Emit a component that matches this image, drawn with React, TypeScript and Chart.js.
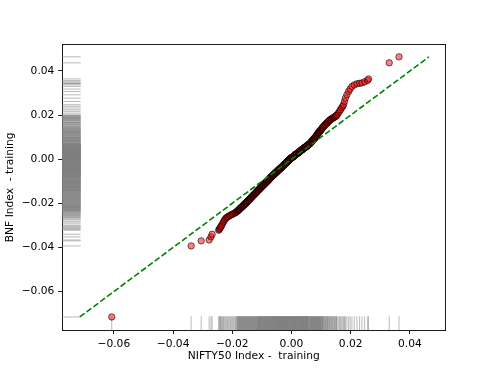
import React, { useEffect, useRef } from "react";
import { Chart, registerables } from "chart.js";

Chart.register(...registerables);

// Sorted quantiles (QQ pairs), in units of 1e-4 (return x 10 000)
const UNIT = 1e-4;

const niftyQuantiles = [
  -607, -339, -305, -278, -272, -268,
  -246, -244, -242, -240, -238, -236, -233, -230, -228, -225,
  -222, -219, -216, -213, -209, -206, -203, -199, -196, -192,
  -189, -187, -185,
  -183, -182, -181, -180, -179, -178, -177, -176, -175, -174,
  -173, -172, -171, -170, -169, -168, -167, -166, -165, -164,
  -163, -162, -161, -160, -159, -158, -157, -156, -155, -154,
  -153, -152, -151, -150, -149, -148, -147, -146, -145, -144,
  -143, -142, -141, -140, -139, -138, -137, -136, -135, -134,
  -133, -132, -131, -130, -129, -128, -127, -126, -125, -124,
  -123, -122, -121, -120, -119, -118, -117,
  -116, -115, -114, -114, -113, -112, -111, -111, -110, -109,
  -108, -108, -107, -106, -105, -105, -104, -103, -102, -102,
  -101, -100, -99, -99, -98, -97, -96, -96, -95, -94,
  -93, -93, -92, -91, -90, -90, -89, -88, -87, -87,
  -86, -85, -84, -84, -83, -82, -81, -81, -80, -79,
  -78, -78, -77, -76, -75, -75, -74, -73, -72, -72,
  -71, -70, -69, -69, -68, -67, -66, -66, -65, -64,
  -63, -63, -62, -61, -60, -60,
  -59, -59, -58, -58, -57, -56, -56, -55, -55, -54,
  -53, -53, -52, -52, -51, -50, -50, -49, -49, -48,
  -47, -47, -46, -46, -45, -44, -44, -43, -43, -42,
  -41, -41, -40, -40, -39, -38, -38, -37, -37, -36,
  -35, -35, -34, -34, -33, -32, -32, -31, -31, -30,
  -29, -29, -28, -28, -27, -26, -26, -25, -25, -24,
  -23, -23, -22, -22, -21, -20, -20, -19, -19, -18,
  -17, -17, -16, -16, -15, -14, -14, -13, -13, -12,
  -11, -11, -10, -10, -9, -8, -8, -7, -7, -6,
  -5, -5, -4, -4, -3, -2, -2, -1, -1, 0,
  1, 1, 2, 2, 3, 4, 4, 5, 5, 6,
  7, 7, 8, 8, 9, 10, 10, 11, 11, 12,
  13, 13, 14, 14, 15, 16, 16, 17, 17, 18,
  19, 19, 20, 20, 21, 22, 22, 23, 23, 24,
  25, 25, 26, 26, 27, 28, 28, 29, 29, 30,
  31, 31, 32, 32, 33, 34, 34, 35, 35, 36,
  37, 37, 38, 38, 39, 40, 40, 41, 41, 42,
  43, 43, 44, 44, 45, 46, 46, 47, 47, 48,
  49, 49, 50, 50, 51, 52, 52, 53, 53, 54,
  55, 55, 56, 57, 58, 59, 60, 61, 62, 63, 64,
  65, 66, 67, 68, 68, 69, 70, 71, 72, 72,
  73, 74, 75, 76, 76, 77, 78, 79, 80, 80,
  81, 82, 83, 84, 84, 85, 86, 87, 88, 88,
  89, 90, 91, 92, 92, 93, 94, 95, 96, 96,
  97, 98, 99, 100, 101, 102, 103, 104, 105, 106,
  107, 108,
  110, 112, 113, 115, 116, 118, 120, 121, 122, 124,
  126, 128, 129, 131, 133, 135, 137, 139, 141, 143,
  145, 147, 149, 151, 152, 154,
  158, 162, 165, 169, 173, 176, 179, 182, 187, 193,
  198, 204, 212, 221, 230, 238, 247, 257, 260, 330, 363,
];

const bnfQuantiles = [
  -715, -393, -370, -366, -352, -340,
  -322, -318, -314, -309, -305, -300, -293, -285, -280, -273,
  -268, -264, -262, -259, -256, -254, -251, -249, -247, -244,
  -242, -240, -238,
  -236, -234, -233, -232, -230, -229, -228, -227, -225, -224,
  -222, -221, -220, -219, -218, -217, -215, -214, -213, -211,
  -210, -209, -208, -207, -205, -204, -203, -201, -200, -199,
  -197, -196, -194, -193, -192, -190, -189, -187, -186, -185,
  -183, -182, -180, -179, -178, -176, -175, -173, -172, -171,
  -169, -168, -166, -165, -164, -162, -161, -160, -158, -157,
  -156, -154, -153, -151, -150, -149, -147,
  -146, -144, -143, -142, -142, -140, -139, -138, -138, -136,
  -135, -134, -134, -132, -131, -130, -129, -128, -127, -126,
  -125, -124, -123, -122, -121, -120, -119, -118, -117, -116,
  -115, -114, -113, -112, -111, -110, -109, -108, -107, -106,
  -105, -104, -103, -102, -101, -100, -99, -98, -97, -96,
  -95, -94, -93, -92, -90, -89, -88, -87, -86, -85,
  -84, -83, -82, -81, -80, -79, -78, -77, -76, -75,
  -74, -73, -72, -71, -70, -69,
  -69, -68, -67, -67, -66, -65, -64, -63, -63, -62,
  -61, -60, -60, -59, -59, -57, -57, -56, -55, -55,
  -53, -53, -52, -51, -51, -49, -49, -48, -47, -47,
  -46, -45, -45, -44, -43, -42, -41, -41, -40, -39,
  -38, -38, -37, -36, -36, -35, -34, -33, -33, -32,
  -31, -30, -30, -29, -28, -27, -26, -26, -25, -24,
  -23, -23, -22, -21, -20, -19, -19, -18, -17, -16,
  -15, -15, -14, -13, -12, -11, -11, -10, -9, -8,
  -7, -7, -6, -5, -4, -3, -3, -2, -1, 0,
  1, 1, 2, 3, 3, 4, 5, 5, 6, 6,
  7, 7, 8, 8, 9, 10, 10, 11, 11, 12,
  13, 13, 14, 14, 15, 16, 17, 18, 18, 19,
  20, 20, 21, 21, 22, 23, 23, 24, 24, 25,
  26, 26, 27, 27, 28, 29, 29, 30, 30, 31,
  32, 32, 33, 33, 34, 35, 35, 36, 36, 37,
  38, 39, 40, 40, 41, 42, 42, 43, 43, 44,
  45, 45, 46, 46, 47, 48, 48, 49, 49, 50,
  51, 51, 52, 52, 53, 54, 54, 55, 55, 56,
  57, 57, 58, 58, 59, 60, 60, 62, 62, 63,
  64, 64, 65, 66, 67, 68, 69, 70, 71, 72, 73,
  75, 77, 78, 80, 80, 82, 83, 85, 86, 87,
  88, 90, 91, 93, 93, 95, 96, 97, 98, 99,
  100, 102, 104, 106, 106, 108, 110, 112, 114, 114,
  116, 118, 119, 121, 121, 123, 124, 126, 128, 128,
  129, 131, 133, 134, 136, 138, 139, 141, 143, 145,
  146, 148,
  151, 154, 155, 158, 159, 162, 165, 166, 167, 170,
  173, 175, 177, 179, 181, 183, 184, 186, 188, 189,
  191, 193, 195, 197, 199, 201,
  209, 217, 224, 232, 240, 247, 262, 277, 292, 307,
  318, 330, 337, 342, 344, 346, 351, 357, 364, 437, 464,
];

const xTickValues = [-0.06, -0.04, -0.02, 0, 0.02, 0.04];
const yTickValues = [-0.06, -0.04, -0.02, 0, 0.02, 0.04];
const xAxisTitle = "NIFTY50 Index -  training";
const yAxisTitle = "BNF Index  - training";
const axisMin = -0.0775;
const axisMax = 0.052;
const rugEnd = -0.0712;

const W = 495;
const H = 371;
const FONT = "'DejaVu Sans', sans-serif";
const FS = 10.7;

const fmt = (v: number) => (v < 0 ? "\u2212" : "") + Math.abs(v).toFixed(2);

export default function App() {
  const ref = useRef<HTMLCanvasElement | null>(null);

  useEffect(() => {
    document.body.style.margin = "0";
    const canvas = ref.current;
    if (!canvas) return;

    const n = Math.min(niftyQuantiles.length, bnfQuantiles.length);
    const xs = niftyQuantiles.slice(0, n).map((v) => v * UNIT);
    const ys = bnfQuantiles.slice(0, n).map((v) => v * UNIT);

    const lo = Math.min(...xs, ...ys);
    const hi = Math.max(...xs, ...ys);
    const rugMid = (axisMin + rugEnd) / 2;

    const rugColor = "rgba(128,128,128,0.55)";
    const rugCommon = {
      showLine: false,
      pointStyle: "line",
      backgroundColor: "rgba(0,0,0,0)",
      pointBackgroundColor: "rgba(0,0,0,0)",
      borderColor: rugColor,
      pointBorderColor: rugColor,
      borderWidth: 1,
      pointBorderWidth: 1,
      order: 2,
    };

    const tickOpts = {
      color: "#000",
      font: { family: FONT, size: FS },
      padding: 3.8,
      autoSkip: false,
      maxRotation: 0,
      minRotation: 0,
      callback: (v: any) => fmt(Number(v)),
    };
    const gridOpts = {
      display: true,
      drawOnChartArea: false,
      drawTicks: true,
      tickLength: 3.8,
      tickWidth: 0.9,
      tickColor: "#000",
    };
    const borderOpts = { display: true, color: "#000", width: 0.9 };

    const chart = new Chart(canvas, {
      type: "scatter",
      data: {
        datasets: [
          {
            data: [
              { x: lo, y: lo },
              { x: hi, y: hi },
            ],
            showLine: true,
            pointRadius: 0,
            borderColor: "#008000",
            borderWidth: 1.6,
            borderDash: [5.9, 2.6],
            order: 0,
          } as any,
          {
            data: xs.map((x, i) => ({ x, y: ys[i] })),
            pointRadius: 3.2,
            pointBorderWidth: 1,
            backgroundColor: "rgba(255,0,0,0.5)",
            borderColor: "rgba(0,0,0,0.6)",
            order: 1,
          } as any,
          {
            ...rugCommon,
            data: xs.map((x) => ({ x, y: rugMid })),
            pointRotation: 90,
            pointRadius: (c: any) => {
              const s = c.chart.scales.y;
              return Math.abs(s.getPixelForValue(rugEnd) - s.getPixelForValue(axisMin)) / 2;
            },
          } as any,
          {
            ...rugCommon,
            data: ys.map((y) => ({ x: rugMid, y })),
            pointRotation: 0,
            pointRadius: (c: any) => {
              const s = c.chart.scales.x;
              return Math.abs(s.getPixelForValue(rugEnd) - s.getPixelForValue(axisMin)) / 2;
            },
          } as any,
        ],
      },
      options: {
        responsive: false,
        animation: false,
        events: [],
        layout: { padding: 0 },
        plugins: { legend: { display: false }, tooltip: { enabled: false } },
        scales: {
          x: {
            type: "linear",
            position: "bottom",
            min: axisMin,
            max: axisMax,
            afterBuildTicks: (s: any) => {
              s.ticks = xTickValues.map((value) => ({ value }));
            },
            afterFit: (s: any) => {
              s.height = 40.8;
            },
            ticks: tickOpts,
            grid: gridOpts,
            border: borderOpts,
            title: {
              display: true,
              text: xAxisTitle,
              color: "#000",
              font: { family: FONT, size: FS },
              padding: { top: 0, bottom: 8.3 },
            },
          },
          y: {
            type: "linear",
            position: "left",
            min: axisMin,
            max: axisMax,
            afterBuildTicks: (s: any) => {
              s.ticks = yTickValues.map((value) => ({ value }));
            },
            afterFit: (s: any) => {
              s.width = 62;
            },
            ticks: tickOpts,
            grid: gridOpts,
            border: borderOpts,
            title: {
              display: true,
              text: yAxisTitle,
              color: "#000",
              font: { family: FONT, size: FS },
              padding: { top: 4, bottom: 0 },
            },
          },
          xTop: {
            type: "linear",
            position: "top",
            min: axisMin,
            max: axisMax,
            ticks: { display: false },
            grid: { display: false },
            border: borderOpts,
            afterFit: (s: any) => {
              s.height = 44.5;
            },
          },
          yRight: {
            type: "linear",
            position: "right",
            min: axisMin,
            max: axisMax,
            ticks: { display: false },
            grid: { display: false },
            border: borderOpts,
            afterFit: (s: any) => {
              s.width = 49.5;
            },
          },
        },
      } as any,
    });

    return () => chart.destroy();
  }, []);

  return (
    <div style={{ width: W, height: H, background: "#fff" }}>
      <canvas ref={ref} width={W} height={H} style={{ width: W, height: H, display: "block" }} />
    </div>
  );
}
